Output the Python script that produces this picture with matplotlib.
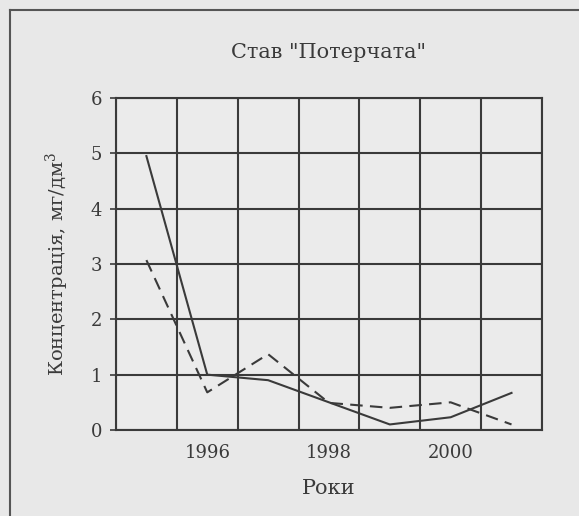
import matplotlib
matplotlib.use('Agg')
import matplotlib.pyplot as plt
from matplotlib.lines import Line2D
import numpy as np

# data
years = [1995, 1996, 1997, 1998, 1999, 2000, 2001]
solid_vals = [4.95, 1.0, 0.9, 0.5, 0.1, 0.23, 0.67]
dashed_vals = [3.07, 0.68, 1.37, 0.49, 0.4, 0.5, 0.1]
tick_years = [1996, 1998, 2000]
y_ticks = [0, 1, 2, 3, 4, 5, 6]

title = 'Став "Потерчата"'
xlabel = 'Роки'
ylabel = 'Концентрація, мг/дм$^3$'

INK = '#3a3a3a'
BG = '#e8e8e8'

plt.rcParams['font.family'] = ['DejaVu Serif']
plt.rcParams['mathtext.fontset'] = 'dejavuserif'

fig = plt.figure(figsize=(5.79, 5.16), dpi=100, facecolor=BG)
ax = fig.add_axes([0.2003, 0.1667, 0.7357, 0.6434], facecolor='#ebebeb')

ax.plot(years, solid_vals, color=INK, lw=1.5)
ax.plot(years, dashed_vals, color=INK, lw=1.5, dashes=(6, 3.5))

ax.set_xlim(years[0] - 0.5, years[-1] + 0.5)
ax.set_ylim(0, 6)

# column borders as the vertical grid
ax.set_xticks(np.arange(years[0] - 0.5, years[-1] + 1), minor=True)
ax.set_xticks(tick_years)
ax.set_xticklabels([str(y) for y in tick_years], fontsize=13, color=INK)
ax.set_yticks(y_ticks)
ax.set_yticklabels([str(v) for v in y_ticks], fontsize=13, color=INK)

ax.grid(which='minor', axis='x', color=INK, lw=1.5)
ax.grid(which='major', axis='y', color=INK, lw=1.5)
ax.set_axisbelow(True)
ax.tick_params(axis='x', which='both', length=0, pad=10)
ax.tick_params(axis='y', length=4, width=1.2, color=INK, pad=6)
for s in ax.spines.values():
    s.set_color(INK)
    s.set_linewidth(1.5)

ax.set_xlabel(xlabel, fontsize=15, color=INK, labelpad=12)
ax.set_ylabel(ylabel, fontsize=14, color=INK, labelpad=14)
fig.text(329 / 579, 1 - 52 / 516, title, fontsize=15, color=INK,
         ha='center', va='center')

# scanned page frame
fig.add_artist(Line2D([10 / 579, 10 / 579], [0, 1 - 10 / 516],
                      transform=fig.transFigure, color='#555555', lw=1.5))
fig.add_artist(Line2D([10 / 579, 1], [1 - 10 / 516, 1 - 10 / 516],
                      transform=fig.transFigure, color='#555555', lw=1.5))

plt.savefig('out.png', dpi=100, facecolor=BG)
